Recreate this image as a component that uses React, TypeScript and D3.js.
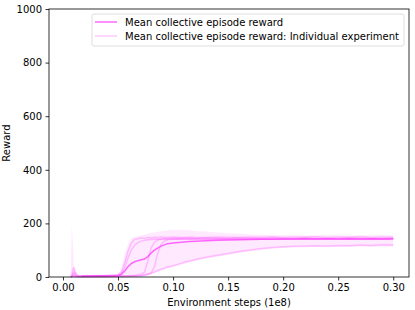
import { useEffect, useRef } from 'react';
import * as d3 from 'd3';

const width = 415;
const height = 310;
const [mt, mr, mb, ml] = [9, 6, 33, 49];

const color = '#ff4dff';

// shared step grid (1e8 env steps)
const steps = [
    0.007, 0.008, 0.009, 0.01, 0.011, 0.013, 0.016, 0.02, 0.025, 0.03, 0.035, 0.04, 0.045, 0.05, 0.053, 0.056,
    0.059, 0.062, 0.065, 0.068, 0.071, 0.074, 0.077, 0.08, 0.083, 0.086, 0.089, 0.092, 0.095, 0.1, 0.105, 0.11,
    0.115, 0.12, 0.13, 0.14, 0.15, 0.16, 0.17, 0.18, 0.19, 0.2, 0.21, 0.22, 0.23, 0.24, 0.25, 0.26, 0.27, 0.28,
    0.29, 0.3,
];

// individual experiments
const runA = [
    0, 6, 30, 34, 18, 6, 3, 4, 3, 5, 4, 6, 5, 7, 18, 52, 96, 126, 140, 143, 146, 144, 147, 146, 148, 147, 149,
    148, 147, 149, 148, 147, 149, 148, 147, 149, 148, 147, 149, 148, 150, 147, 149, 148, 150, 147, 149, 148, 150,
    147, 149, 148,
];
const runB = [
    0, 2, 8, 12, 6, 3, 2, 3, 2, 3, 3, 4, 3, 4, 4, 5, 5, 6, 6, 8, 10, 18, 58, 108, 130, 138, 141, 143, 144, 145,
    144, 146, 145, 144, 146, 145, 144, 146, 145, 144, 146, 145, 143, 146, 144, 145, 143, 146, 144, 145, 143, 145,
];
const runC = [
    0, 1, 4, 6, 3, 2, 2, 2, 3, 2, 3, 2, 3, 3, 3, 4, 4, 4, 5, 5, 6, 8, 10, 14, 38, 88, 120, 134, 139, 141, 142,
    141, 143, 142, 141, 143, 142, 141, 143, 142, 141, 143, 142, 141, 143, 142, 141, 143, 142, 141, 143, 142,
];
const runD = [
    0, 1, 3, 4, 2, 1, 1, 1, 1, 1, 1, 2, 1, 2, 2, 2, 2, 3, 3, 4, 5, 7, 10, 14, 19, 24, 29, 33, 37, 42, 48, 55, 60,
    65, 74, 81, 88, 95, 101, 106, 110, 113, 115, 116, 117, 116, 118, 117, 119, 118, 120, 119,
];
const runE = [
    0, 3, 14, 20, 10, 4, 3, 3, 4, 3, 4, 3, 4, 5, 10, 35, 70, 100, 118, 128, 134, 137, 139, 140, 141, 142, 141,
    143, 142, 141, 143, 142, 141, 143, 142, 141, 143, 142, 141, 143, 142, 141, 143, 142, 141, 143, 142, 141, 143,
    142, 141, 143,
];
const runs = [runA, runB, runC, runD, runE];

// mean over experiments (starts once all runs have logged)
const meanSteps = [
    0.017, 0.02, 0.025, 0.03, 0.035, 0.04, 0.045, 0.05, 0.053, 0.056, 0.059, 0.062, 0.065, 0.068, 0.071, 0.074,
    0.077, 0.08, 0.083, 0.086, 0.089, 0.092, 0.095, 0.1, 0.105, 0.11, 0.115, 0.12, 0.13, 0.14, 0.15, 0.16, 0.17,
    0.18, 0.19, 0.2, 0.21, 0.22, 0.23, 0.24, 0.25, 0.26, 0.27, 0.28, 0.29, 0.3,
];
const meanReward = [
    3, 4, 4, 5, 5, 5, 6, 6, 10, 22, 38, 50, 57, 61, 64, 67, 76, 89, 100, 108, 115, 120, 124, 127, 129, 131, 132,
    133, 135, 137, 138, 139, 140, 141, 141, 142, 142, 143, 142, 143, 142, 143, 142, 143, 142, 143,
];

// spread band
const bandUpper = [
    0, 190, 120, 40, 22, 12, 8, 8, 8, 9, 8, 9, 9, 10, 32, 82, 122, 145, 150, 153, 155, 158, 161, 164, 167, 169,
    171, 173, 174, 175, 176, 175, 174, 172, 170, 166, 163, 161, 159, 158, 157, 156, 156, 155, 156, 155, 156, 155,
    156, 155, 156, 155,
];
const bandLower = [
    0, 0, 0, 0, 0, 0, 0, 0, 0, 0, 0, 0, 0, 0, 0, 0, 0, 0, 0, 1, 2, 3, 6, 10, 14, 19, 24, 28, 32, 37, 43, 50, 55,
    60, 69, 76, 83, 90, 96, 101, 105, 108, 110, 111, 112, 111, 113, 112, 114, 113, 115, 114,
];

const xTicks = [0, 0.05, 0.1, 0.15, 0.2, 0.25, 0.3];
const yTicks = [0, 200, 400, 600, 800, 1000];
const legendLabels = ['Mean collective episode reward', 'Mean collective episode reward: Individual experiment'];

export default function App() {
    const ref = useRef<SVGSVGElement | null>(null);

    useEffect(() => {
        const svg = d3.select(ref.current);
        svg.selectAll('*').remove();

        const x = d3.scaleLinear().domain([-0.0127, 0.3143]).range([ml, width - mr]);
        const y = d3.scaleLinear().domain([0, 1000]).range([height - mb, mt]);

        const g = svg.append('g');

        // band
        const area = d3
            .area<number>()
            .x((_d, i) => x(steps[i]))
            .y0((_d, i) => y(bandLower[i]))
            .y1((d) => y(d));
        g.append('path').attr('d', area(bandUpper)).attr('fill', color).attr('fill-opacity', 0.12);

        // individual runs
        const runLine = d3
            .line<number>()
            .x((_d, i) => x(steps[i]))
            .y((d) => y(d));
        runs.forEach((r) => {
            g.append('path')
                .attr('d', runLine(r))
                .attr('fill', 'none')
                .attr('stroke', color)
                .attr('stroke-opacity', 0.3)
                .attr('stroke-width', 1.5);
        });

        // mean
        const meanLine = d3
            .line<number>()
            .x((_d, i) => x(meanSteps[i]))
            .y((d) => y(d));
        g.append('path')
            .attr('d', meanLine(meanReward))
            .attr('fill', 'none')
            .attr('stroke', color)
            .attr('stroke-opacity', 0.85)
            .attr('stroke-width', 1.5);

        // axes
        const fontFamily = 'DejaVu Sans, sans-serif';
        const xAxis = svg
            .append('g')
            .attr('transform', `translate(0,${height - mb})`)
            .call(d3.axisBottom(x).tickValues(xTicks).tickFormat(d3.format('.2f')).tickSize(3.5).tickPadding(3.5));
        const yAxis = svg
            .append('g')
            .attr('transform', `translate(${ml},0)`)
            .call(d3.axisLeft(y).tickValues(yTicks).tickFormat(d3.format('d')).tickSize(3.5).tickPadding(3.5));
        [xAxis, yAxis].forEach((a) => {
            a.select('.domain').remove();
            a.selectAll('text').attr('font-size', 10).attr('font-family', fontFamily).attr('fill', '#000');
            a.selectAll('line').attr('stroke', '#000').attr('stroke-width', 0.8);
        });

        // frame
        svg.append('rect')
            .attr('x', ml)
            .attr('y', mt)
            .attr('width', width - ml - mr)
            .attr('height', height - mt - mb)
            .attr('fill', 'none')
            .attr('stroke', '#000')
            .attr('stroke-width', 0.8);

        svg.append('text')
            .attr('x', (ml + width - mr) / 2)
            .attr('y', height - 4)
            .attr('text-anchor', 'middle')
            .attr('font-size', 10)
            .attr('font-family', fontFamily)
            .text('Environment steps (1e8)');

        svg.append('text')
            .attr('transform', `translate(10,${(mt + height - mb) / 2}) rotate(-90)`)
            .attr('text-anchor', 'middle')
            .attr('font-size', 10)
            .attr('font-family', fontFamily)
            .text('Reward');

        // legend
        const legend = svg.append('g').attr('transform', 'translate(92,14)');
        legend
            .append('rect')
            .attr('width', 312)
            .attr('height', 32)
            .attr('rx', 2)
            .attr('fill', '#fff')
            .attr('fill-opacity', 0.8)
            .attr('stroke', '#d6d6d6')
            .attr('stroke-width', 0.8);
        legendLabels.forEach((label, i) => {
            const ly = 8 + i * 14;
            legend
                .append('line')
                .attr('x1', 3)
                .attr('x2', 25)
                .attr('y1', ly)
                .attr('y2', ly)
                .attr('stroke', color)
                .attr('stroke-opacity', i === 0 ? 0.85 : 0.3)
                .attr('stroke-width', 1.5);
            legend
                .append('text')
                .attr('x', 33)
                .attr('y', ly + 3.5)
                .attr('font-size', 10)
                .attr('font-family', fontFamily)
                .text(label);
        });
    }, []);

    return (
        <svg
            ref={ref}
            width={width}
            height={height}
            style={{ display: 'block', position: 'fixed', top: 0, left: 0, background: '#fff' }}
        />
    );
}
